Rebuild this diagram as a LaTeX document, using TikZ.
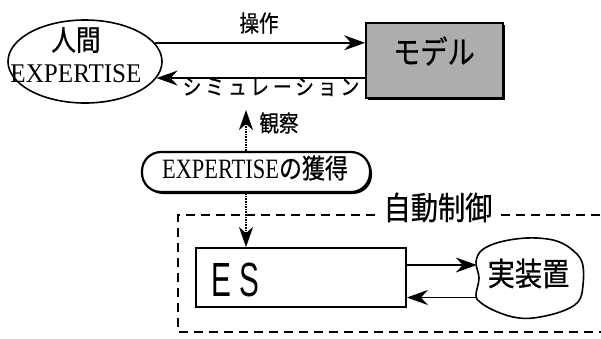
\documentclass[tikz,border=0pt]{standalone}
\usepackage{fontspec}
\usetikzlibrary{arrows.meta,shapes.geometric,shadows,calc}
\newfontfamily\jpf[FakeStretch=0.85,FakeBold=0.6]{Noto Sans CJK JP}
\newfontfamily\serA[FakeStretch=0.93]{Liberation Serif}
\newfontfamily\serB[FakeStretch=0.8]{Liberation Serif}
\newfontfamily\sansC[FakeStretch=0.62]{Liberation Sans}
\newcommand\fsz[1]{\fontsize{#1}{#1}\selectfont}
\tikzset{
  arr/.style={-{Stealth[length=21pt,width=15pt,inset=7pt]}, line width=1.6pt},
  dotarr/.style={densely dotted, line width=1.6pt, -{Stealth[length=20pt,width=14pt,inset=6pt]}},
  txt/.style={inner sep=0pt, anchor=center},
  boxline/.style={draw, line width=1.8pt},
  shad/.style={drop shadow={shadow xshift=2pt, shadow yshift=-2pt, fill=black, opacity=1}},
}
\begin{document}
\begin{tikzpicture}[x=1pt,y=-1pt]
\useasboundingbox (0,0) rectangle (601,338);
\fill[white] (0,0) rectangle (601,338);

% human ellipse
\node[ellipse, draw, line width=1.6pt, minimum width=154pt, minimum height=83pt, inner sep=0pt] (human) at (85,61.5) {};
\node[txt] (humanA) at (76,40) {\jpf\fsz{29}人間};
\node[txt] (humanB) at (76,74) {\serA\fsz{27}EXPERTISE};

% model box
\node[boxline, fill=black!32, shad, minimum width=137pt, minimum height=75pt, inner sep=0pt] (model) at (434.5,60.5) {};
\node[txt] (modelT) at (434,51) {\jpf\fsz{32}モデル};

% arrows human <-> model
\draw[arr] (human.15) -- (human.15 -| model.west);
\draw[arr] (model.west |- human.-13) -- (human.-13);
\node[txt] (opT) at (259,23) {\jpf\fsz{23}操作};
\node[txt] (simT) at (271,87) {\jpf\fsz{22}\addfontfeature{LetterSpace=18}シミュレーション};

% acquisition rounded box
\node[draw, line width=2.2pt, rounded corners=19pt, shad, fill=white, minimum width=228pt, minimum height=40pt, inner sep=0pt] (acq) at (256,172) {};
\node[txt] (acqT) at (255,168) {\serB\fsz{28}EXPERTISE\jpf\fsz{27}の獲得};

% observation dotted arrow
\coordinate (obs) at (246,110);
\draw[dotarr] (obs |- acq.north) -- (obs);
\node[txt] (obsT) at (279,123) {\jpf\fsz{23}観察};

% automatic control dashed frame
\draw[line width=1.8pt, dash pattern=on 9pt off 6pt] (615,215) -- (178,215) -- (178,332) -- (615,332);
\node[txt, fill=white, inner xsep=5pt, inner ysep=1pt] (autoT) at (438,207.5) {\jpf\fsz{32}自動制御};

% ES box
\node[boxline, fill=white, minimum width=210pt, minimum height=59pt, inner sep=0pt] (es) at (301,277.5) {};
\node[txt] (esT) at (235,280) {\sansC\fsz{48}E S};

% dotted arrow to ES
\draw[dotarr] (obs |- acq.south) -- (obs |- es.north);

% plant cloud
\node[minimum width=106pt, minimum height=77pt, inner sep=0pt] (plant) at (530,278) {};
\draw[line width=1.6pt] plot[smooth cycle, tension=0.6] coordinates {
  (476,262) (482,250) (500,242) (527,238) (553,240) (570,248) (582,262)
  (583,285) (578,302) (560,312) (533,318) (513,317) (493,310) (480,302)
  (476,295) (479,278)};
\node[txt] (plantT) at (528.5,273.5) {\jpf\fsz{32}実装置};

% ES <-> plant arrows
\draw[arr] ([yshift=12.5pt]es.east) -- ([yshift=12.5pt]es.east -| plant.west);
\draw[arr] ([yshift=-19.5pt]plant.west) -- ([yshift=-19.5pt]plant.west -| es.east);
\end{tikzpicture}
\end{document}
